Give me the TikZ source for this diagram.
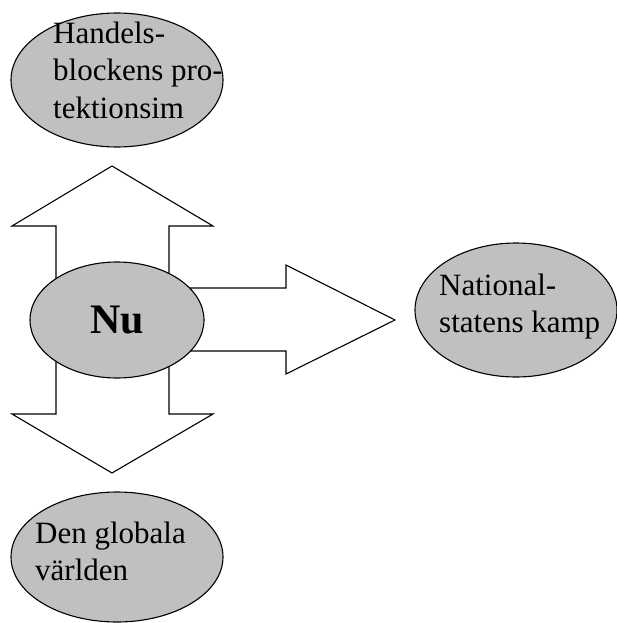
\documentclass[tikz,border=0pt]{standalone}
\usepackage{fontspec}
\setmainfont{Liberation Serif}
\usetikzlibrary{shapes.geometric}
\definecolor{bubblegray}{HTML}{C0C0C0}

\begin{document}
\begin{tikzpicture}[x=1pt, y=-1pt,
    bubble/.style={ellipse, draw, line width=1.1pt, fill=bubblegray, inner sep=0pt},
    blockarrow/.style={draw, fill=white, line width=1.1pt, line join=miter},
    bubbletext/.style={anchor=base west, align=left, inner sep=0pt, font=\fontsize{31}{37}\selectfont}]
    \useasboundingbox (0,0) rectangle (617,623);
    % arrows, behind the bubbles
    \draw[blockarrow] (112,166) -- (213,226) -- (169,226) -- (169,414) -- (213,414) -- (112,473)
        -- (12,414) -- (56,414) -- (56,226) -- (12,226) -- cycle;
    \draw[blockarrow] (150,288) -- (286,288) -- (286,265) -- (395,320) -- (286,374) -- (286,351)
        -- (150,351) -- cycle;
    % bubbles
    \node[bubble, minimum width=212, minimum height=134] (handel) at (117,80) {};
    \node[bubble, minimum width=174, minimum height=116, font=\fontsize{42}{48}\selectfont\bfseries] (nu) at (117,320) {Nu};
    \node[bubble, minimum width=202, minimum height=134] (nation) at (516,310) {};
    \node[bubble, minimum width=212, minimum height=130] (global) at (117,557) {};
    % texts (base = last line)
    \node[bubbletext] (handeltext) at (53,118) {Handels-\\blockens pro-\\tektionsim};
    \node[bubbletext] (nationtext) at (439,332) {National-\\statens kamp};
    \node[bubbletext] (globaltext) at (35,580) {Den globala\\världen};
\end{tikzpicture}
\end{document}
